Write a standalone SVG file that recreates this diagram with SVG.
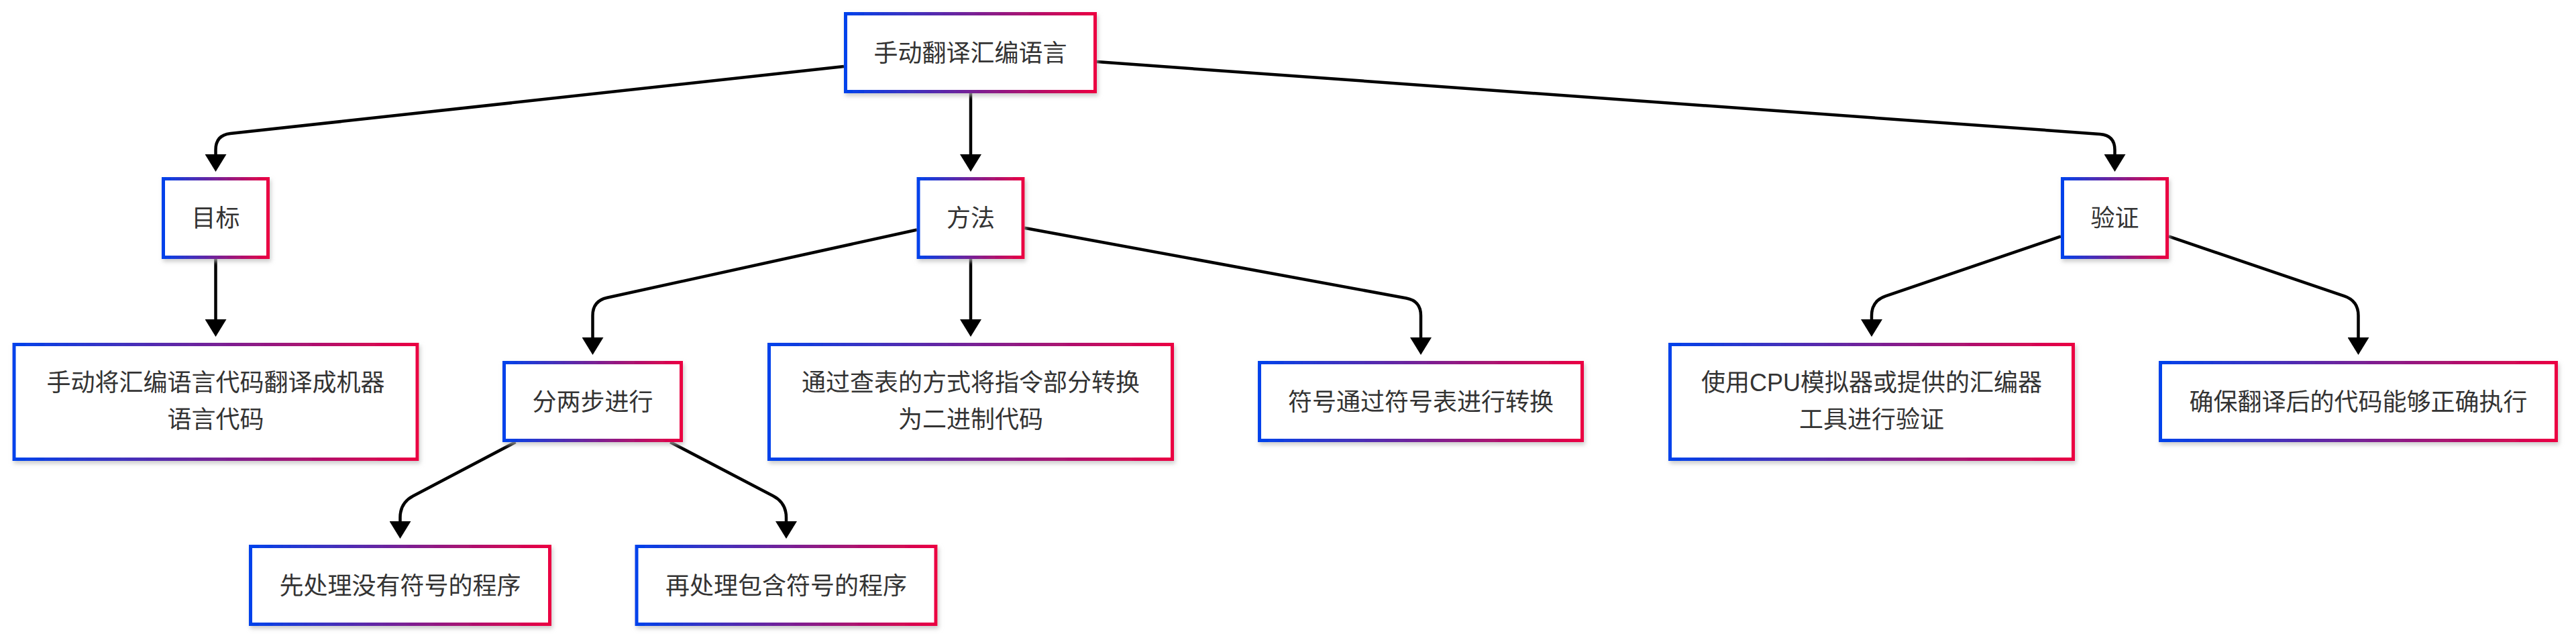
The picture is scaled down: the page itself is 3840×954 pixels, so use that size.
<svg xmlns="http://www.w3.org/2000/svg" width="3840" height="954" viewBox="0 0 3840 954">
<defs>
<linearGradient id="g" x1="0" y1="0" x2="1" y2="0">
<stop offset="0" stop-color="#0042eb"/>
<stop offset="1" stop-color="#eb0042"/>
</linearGradient>
<filter id="sh" x="-10%" y="-20%" width="120%" height="150%">
<feDropShadow dx="2" dy="4" stdDeviation="3" flood-color="#b9b9b9" flood-opacity="0.75"/>
</filter>
<marker id="ah" markerUnits="userSpaceOnUse" markerWidth="26" markerHeight="32" refX="12" refY="16" orient="auto" viewBox="0 0 26 32">
<path d="M0,0 L26,16 L0,32 z" fill="#000"/>
</marker>
</defs>
<style>
.n rect{fill:#fff;stroke:url(#g);stroke-width:5;filter:url(#sh)}
.n text{font-family:"Liberation Sans","Noto Sans CJK SC",sans-serif;font-size:36px;fill:#333;text-anchor:middle}
.e path{fill:none;stroke:#000;stroke-width:4.5;marker-end:url(#ah)}
</style>
<rect width="3840" height="954" fill="#fff"/>
<g class="e" id="edges">
<path d="M1258,99.1 L343.4,199.1 Q321.5,201.5 321.5,223.5 L321.5,242"/>
<path d="M1447,139 L1447,242"/>
<path d="M1635,92.1 L3130.6,199.9 Q3152.5,201.5 3152.5,223.5 L3152.5,242"/>
<path d="M321.5,386 L321.5,488"/>
<path d="M1367,342.5 L905,443.8 Q883.5,448.5 883.5,470.5 L883.5,515"/>
<path d="M1447,386 L1447,488"/>
<path d="M1527,339.7 L2096.4,444.5 Q2118,448.5 2118,470.5 L2118,515"/>
<path d="M3072,352.4 L2810.8,441.4 Q2790,448.5 2790,470.5 L2790,488"/>
<path d="M3233,352.4 L3494.7,441.4 Q3515.5,448.5 3515.5,470.5 L3515.5,515"/>
<path d="M768.5,659 L616,739.3 Q596.5,749.5 596.5,771.5 L596.5,789"/>
<path d="M999.1,659 L1152.5,739.3 Q1172,749.5 1172,771.5 L1172,789"/>
</g>
<g class="n" id="root"><rect x="1260.5" y="20.5" width="372" height="116"/><text x="1446.5" y="91.5">手动翻译汇编语言</text></g>
<g class="n" id="goal"><rect x="243.5" y="266.5" width="156" height="117"/><text x="321.5" y="338">目标</text></g>
<g class="n" id="method"><rect x="1369" y="266.5" width="156" height="117"/><text x="1447" y="338">方法</text></g>
<g class="n" id="verify"><rect x="3074.5" y="266.5" width="156" height="117"/><text x="3152.5" y="338">验证</text></g>
<g class="n" id="goal1"><rect x="21" y="513.5" width="601" height="171"/><text x="321.5" y="583">手动将汇编语言代码翻译成机器</text><text x="321.5" y="638">语言代码</text></g>
<g class="n" id="twostep"><rect x="751.5" y="540.5" width="264" height="116"/><text x="883.5" y="612">分两步进行</text></g>
<g class="n" id="lookup"><rect x="1146.5" y="513.5" width="601" height="171"/><text x="1447" y="583">通过查表的方式将指令部分转换</text><text x="1447" y="638">为二进制代码</text></g>
<g class="n" id="symbol"><rect x="1877.5" y="540.5" width="481" height="116"/><text x="2118" y="612">符号通过符号表进行转换</text></g>
<g class="n" id="cpu"><rect x="2489.5" y="513.5" width="601" height="171"/><text x="2790" y="583">使用CPU模拟器或提供的汇编器</text><text x="2790" y="638">工具进行验证</text></g>
<g class="n" id="ensure"><rect x="3220.5" y="540.5" width="590" height="116"/><text x="3515.5" y="612">确保翻译后的代码能够正确执行</text></g>
<g class="n" id="step1"><rect x="373.5" y="814.5" width="446" height="116"/><text x="596.5" y="886">先处理没有符号的程序</text></g>
<g class="n" id="step2"><rect x="949" y="814.5" width="446" height="116"/><text x="1172" y="886">再处理包含符号的程序</text></g>
</svg>
